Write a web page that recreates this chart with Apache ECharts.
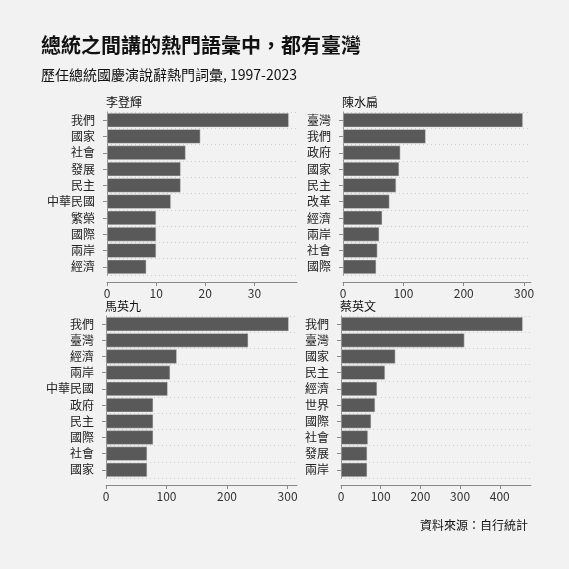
<!DOCTYPE html><html><head><meta charset="utf-8"><script src="https://cdn.jsdelivr.net/npm/echarts@6/dist/echarts.min.js"></script>
<style>body{margin:0;background:#f2f2f2}#c{width:569px;height:569px}</style></head><body><div id="c"></div><script>
const names=['李登輝','陳水扁','馬英九','蔡英文'];
const cats1=['我們','國家','社會','發展','民主','中華民國','繁榮','國際','兩岸','經濟'];
const vals1=[37,19,16,15,15,13,10,10,10,8];
const cats2=['臺灣','我們','政府','國家','民主','改革','經濟','兩岸','社會','國際'];
const vals2=[298,137,95,93,88,77,65,60,57,55];
const cats3=['我們','臺灣','經濟','兩岸','中華民國','政府','民主','國際','社會','國家'];
const vals3=[302,235,117,106,102,78,78,78,68,68];
const cats4=['我們','臺灣','國家','民主','經濟','世界','國際','社會','發展','兩岸'];
const vals4=[458,311,137,111,91,86,76,68,66,66];
const intervals=[10,100,100,100];
const cats=[cats1,cats2,cats3,cats4],vals=[vals1,vals2,vals3,vals4];
const F='"Noto Sans CJK TC"';
const pos=[[107,112,272,275],[343,112,38,275],[106,316,272,478],[341,316,38,478]];
const grid=[],xAxis=[],yAxis=[],series=[],title=[
{text:'總統之間講的熱門語彙中，都有臺灣',left:36,top:30,textStyle:{fontFamily:F,fontSize:20,fontWeight:'bold',color:'#111'}},
{text:'歷任總統國慶演說辭熱門詞彙, 1997-2023',left:36,top:63,textStyle:{fontFamily:F,fontSize:14,fontWeight:'normal',color:'#111'}},
{text:'資料來源：自行統計',right:36,top:514,textStyle:{fontFamily:F,fontSize:12,fontWeight:'normal',color:'#111'}}];
pos.forEach((p,i)=>{
 grid.push({left:p[0],top:p[1],right:p[2],height:p[3]-p[1]});
 title.push({text:names[i],left:p[0]-6,top:p[1]-21,textStyle:{fontFamily:F,fontSize:12,fontWeight:'normal',color:'#111'}});
 const mx=Math.max(...vals[i]);
 xAxis.push({type:'value',gridIndex:i,min:0,max:mx*1.045,interval:intervals[i],offset:7,
  axisLine:{show:true,lineStyle:{color:'#888'}},axisTick:{show:true,length:4,lineStyle:{color:'#888'}},splitLine:{show:false},
  axisLabel:{showMaxLabel:false,fontFamily:F,fontSize:12,color:'#333',margin:5}});
 yAxis.push({type:'category',gridIndex:i,inverse:true,data:cats[i],offset:8,
  axisLine:{show:true,lineStyle:{color:'#888'}},axisTick:{show:true,length:4,lineStyle:{color:'#888'}},
  splitLine:{show:true,interval:0,lineStyle:{color:'#ccc',type:[1,3]}},
  axisLabel:{fontFamily:F,fontSize:12,color:'#222',margin:4}});
 series.push({type:'bar',xAxisIndex:i,yAxisIndex:i,data:vals[i],barCategoryGap:'12%',
  itemStyle:{color:'#595959',borderColor:'#ddd',borderWidth:0.5},silent:true});
});
// Move splitLines to category centres: use alignWithLabel via boundaryGap
yAxis.forEach(y=>{y.axisTick.alignWithLabel=true;});
const ch=echarts.init(document.getElementById('c'));
ch.setOption({backgroundColor:'#f2f2f2',animation:false,title,grid,xAxis,yAxis,series});
</script></body></html>
